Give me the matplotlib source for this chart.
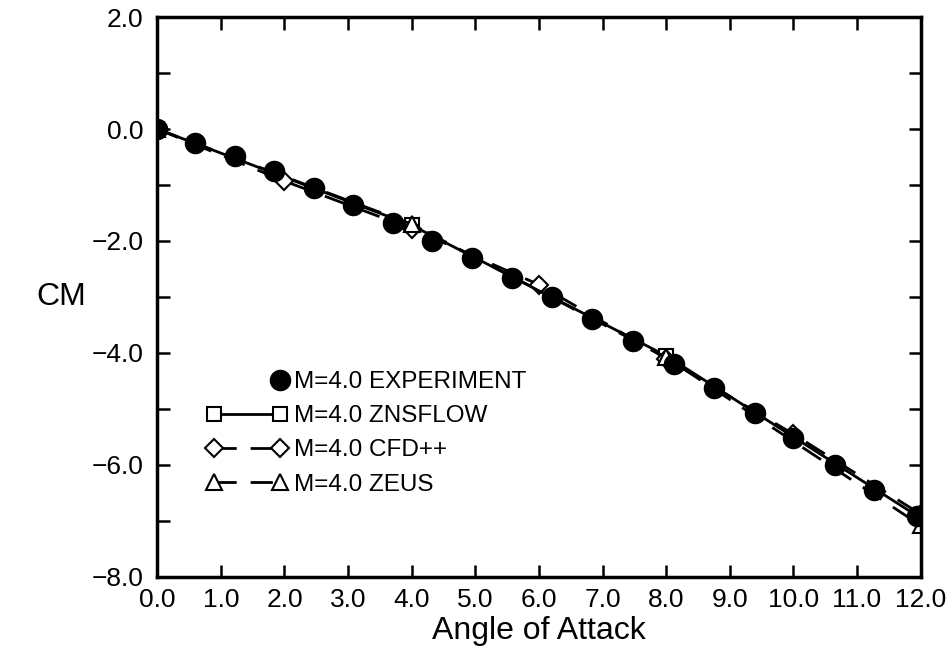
import numpy as np
import matplotlib
matplotlib.use("Agg")
import matplotlib.pyplot as plt
from matplotlib.legend_handler import HandlerLine2D
from matplotlib.ticker import MultipleLocator, FuncFormatter

plt.rcParams['font.family'] = ['Liberation Sans', 'DejaVu Sans']

# ===== данные =====
exp_alpha = [0.0, 0.6, 1.22, 1.84, 2.47, 3.08, 3.7, 4.32, 4.95, 5.58,
             6.21, 6.84, 7.48, 8.13, 8.76, 9.39, 10.0, 10.66, 11.27, 11.95]
exp_cm = [0.0, -0.25, -0.48, -0.75, -1.06, -1.35, -1.67, -2.0, -2.31, -2.66,
          -3.0, -3.4, -3.78, -4.2, -4.62, -5.07, -5.52, -6.0, -6.45, -6.92]

zns_alpha = [0.0, 4.0, 8.0, 12.0]
zns_cm = [0.0, -1.72, -4.05, -6.95]

cfd_alpha = [0.0, 2.0, 4.0, 6.0, 8.0, 10.0, 12.0]
cfd_cm = [0.0, -0.93, -1.78, -2.78, -4.1, -5.45, -6.88]

zeus_alpha = [0.0, 4.0, 8.0, 12.0]
zeus_cm = [0.0, -1.7, -4.08, -7.08]

labels = ["M=4.0 EXPERIMENT", "M=4.0 ZNSFLOW", "M=4.0 CFD++", "M=4.0 ZEUS"]


class RightMarker(HandlerLine2D):
    """маркер только справа, как в оригинале"""
    def get_xdata(self, legend, xdescent, ydescent, width, height, fontsize):
        x = width - self._marker_pad * fontsize - xdescent
        return [x], [x]


def fmt(v, pos):
    return f"{v:.1f}".replace("-", "\u2212")


fig = plt.figure(figsize=(9.53, 6.57), dpi=100)
ax = fig.add_axes([0.165, 0.122, 0.801, 0.852])

ax.plot(zns_alpha, zns_cm, '-', color='black', lw=2.0, marker='s', ms=10,
        mfc='white', mew=1.5, label=labels[1], zorder=2)
ax.plot(cfd_alpha, cfd_cm, '--', color='black', lw=2.0, marker='D', ms=9,
        mfc='white', mew=1.5, dashes=(8, 5), label=labels[2], zorder=2)
ax.plot(zeus_alpha, zeus_cm, '--', color='black', lw=2.0, marker='^', ms=11,
        mfc='white', mew=1.5, dashes=(8, 5), label=labels[3], zorder=2)
exp_line, = ax.plot(exp_alpha, exp_cm, 'o', color='black', ms=14.5,
                    label=labels[0], zorder=3)

ax.set_xlim(0, 12)
ax.set_ylim(-8, 2)
ax.xaxis.set_major_locator(MultipleLocator(1))
ax.yaxis.set_major_locator(MultipleLocator(2))
ax.yaxis.set_minor_locator(MultipleLocator(1))
ax.xaxis.set_major_formatter(FuncFormatter(fmt))
ax.yaxis.set_major_formatter(FuncFormatter(fmt))
ax.tick_params(which='both', direction='in', top=True, right=True,
               width=1.8, length=9, labelsize=19)
ax.tick_params(axis='x', pad=8)
ax.tick_params(axis='y', pad=10)
for sp in ax.spines.values():
    sp.set_linewidth(2.5)

ax.set_xlabel("Angle of Attack", fontsize=23, labelpad=3)
ax.set_ylabel("CM", fontsize=23, rotation=0, labelpad=22, va='center')

handles, labs = ax.get_legend_handles_labels()
order = [3, 0, 1, 2]
ax.legend([handles[i] for i in order], [labs[i] for i in order],
          loc='upper left', bbox_to_anchor=(0.052, 0.385), frameon=False,
          fontsize=17.5, numpoints=2, handlelength=3.3, handletextpad=0.3,
          labelspacing=0.5, borderaxespad=0,
          handler_map={exp_line: RightMarker()})

fig.savefig("out.png", dpi=100)
